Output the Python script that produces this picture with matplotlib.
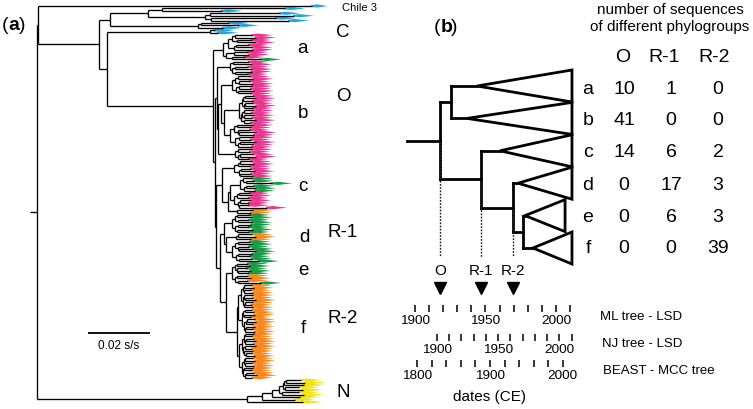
import matplotlib
matplotlib.use("Agg")
import matplotlib.pyplot as plt
from matplotlib import ticker
from matplotlib.collections import LineCollection, PolyCollection
from matplotlib.patches import Polygon

plt.rcParams["font.family"] = ["Liberation Sans", "DejaVu Sans"]

W, H = 753, 409

# phylogroup colours of the tips
COLORS = {"C": "#29a3dd", "Chile3": "#29a3dd", "O": "#e7378f",
          "R1": "#1a9a46", "R2": "#f6871f", "N": "#f2e41c"}

# ---- (a) ML tree, branch lengths in 0.001 s/s ----
C_UPPER = "(((C:39.7,C:19.4):4.5,((C:22.7,C:27.2):1.5,(C:20.9,C:25.1):2.0):18.4):12.3,((C:9.1,C:12.1):1.0,C:8.1):28.4)"
C_LOWER = "(C:1.5,C:2.5)"

CLADE_A = "((((O:5.5,O:6.5):1.0,(O:4.8,O:6.0):1.4):1.5,((O:4.0,O:5.2):0.8,O:6.2):2.0):1.5,((O:4.5,O:5.0):2.5,(O:4.2,R1:9.5):1.8):1.0)"

B1 = "((O:5.0,O:6.1):1.2,((O:4.4,O:5.6):0.9,(O:5.2,O:4.1):1.1):0.8)"
B2A = "(((O:4.0,O:5.1):0.7,(O:3.6,O:4.8):1.0):1.2,((O:4.4,O:3.9):0.8,(O:5.0,O:4.2):0.6):1.5)"
B2B = "((((O:2.8,O:3.4):0.5,O:3.0):0.6,((O:2.5,O:3.6):0.4,O:2.9):0.8):0.7,(((O:3.1,O:2.6):0.5,(O:3.3,O:2.7):0.6):0.4,(O:3.8,O:2.4):0.9):0.5)"
B2C = "(((O:5.2,O:4.4):0.9,(O:4.0,(O:5.5,O:4.7):0.6):1.0):1.4,((O:4.8,O:3.9):1.1,((O:5.1,O:4.3):0.7,O:4.6):0.8):1.6)"
B3 = "((O:4.6,O:3.8):1.0,((O:4.2,O:5.3):0.7,O:3.5):0.9)"
CLADE_B = f"({B1}:4.0,(({B2A}:3.5,({B2B}:5.0,{B2C}:2.0):1.0):0.9,{B3}:5.5):0.3)"

CL1 = "(((O:3.8,O:4.6):0.6,O:4.0):1.2,((O:3.2,O:4.4):0.8,(O:3.6,O:4.1):0.5):1.4)"
CL2A = "((R1:3.0,(R1:2.6,R1:8.5):0.8):1.0,((R1:2.8,R1:3.4):0.6,R1:3.6):1.2)"
CL2B = "(((O:3.4,O:4.0):0.7,O:3.8):0.9,((O:3.6,O:2.9):0.8,(O:3.2,O:9.0):0.5):1.1)"
CL2C = "(R2:5.0,R2:4.4)"
CLADE_C = f"({CL1}:4.0,(({CL2A}:3.4,{CL2B}:1.5):0.5,{CL2C}:3.0):2.0)"

D1 = "(((R1:4.2,R1:5.0):0.6,(R1:3.8,R1:4.6):0.9):1.0,((R1:4.4,R1:3.6):0.7,(R1:5.1,R1:4.0):0.5):1.2)"
D2 = "((R2:4.5,R2:5.6):0.8,R2:4.9)"
D3 = "(((R1:4.0,R1:4.8):0.7,(R1:3.5,(R1:4.4,R1:5.2):0.5):0.8):1.1,((R1:4.7,R1:3.9):0.6,(R1:4.2,R1:6.5):0.9):1.3)"
CLADE_D = f"({D1}:2.5,({D2}:3.2,{D3}:2.0):0.6)"

CLADE_E = "(((R1:3.6,R1:4.2):0.6,(R1:3.2,(R1:4.0,R1:3.4):0.4):0.7):0.9,((R2:3.8,R2:4.5):0.5,(R2:3.3,R1:7.5):0.8):1.0)"

F1 = "(((R2:2.6,R2:3.2):0.4,(R2:2.2,R2:3.0):0.5):0.6,((R2:2.9,(R2:2.4,R2:3.4):0.3):0.5,((R2:2.7,R2:2.1):0.4,R2:3.1):0.3):0.7)"
F2 = "(((R2:2.4,R2:2.9):0.5,(R2:3.3,R2:2.0):0.3):0.5,(((R2:2.6,R2:3.0):0.4,R2:2.3):0.6,((R2:2.8,R2:2.2):0.3,R2:3.2):0.4):0.6)"
F3 = "(((R2:2.9,R2:2.3):0.4,((R2:2.5,R2:3.1):0.3,R2:2.7):0.5):0.6,((R2:3.4,R2:2.4):0.5,(R2:2.8,(R2:2.1,R2:3.0):0.4):0.3):0.5)"
F4 = "(((R2:2.7,R2:3.3):0.4,(R2:2.2,R2:2.9):0.5):0.7,((R2:3.0,R2:2.5):0.3,((R2:2.6,R2:3.5):0.4,R2:2.4):0.6):0.5)"
CLADE_F = f"(({F1}:0.8,{F2}:1.2):0.4,({F3}:1.0,{F4}:0.9):0.6)"

CLADE_N = "(((((((N:5.0,N:6.2):0.6,N:6.4):0.5,(N:4.6,N:5.8):0.8):1.2,(N:5.5,N:7.0):1.0):2.3,N:9.0):3.0,N:10.5):5.0,N:18.0)"

CORE_OR = f"({CLADE_A}:3.2,({CLADE_B}:0.7,({CLADE_C}:1.9,({CLADE_D}:1.3,({CLADE_E}:1.9,{CLADE_F}:3.5):2.0):1.3):0.3):0.6)"
ML_TREE = f"((Chile3:88.5,({C_UPPER}:3.5,({C_LOWER}:33.2,{CORE_OR}:34.2):2.6):19.8):0.2,{CLADE_N}:67.7)"
SCALE_BAR = 20.0  # 0.02 s/s

# ---- (b) schematic dated tree (ML - LSD years) and counts ----
SCHEME = "((a:18.5,b:11.4):7.8,(c:13.5,(d:3.5,(e:1.5,f:7.1):7.0)R-2:22.8)R-1:29.1)O:23.4"
SCHEME_ROOT_YEAR = 1894.3
CLADE_END_YEAR = [2011.4, 2011.4, 2011.4, 2011.4, 2006.5, 2011.4]
GROUPS = ["O", "R-1", "R-2"]
COUNT_O = [10, 41, 14, 0, 0, 0]
COUNT_R1 = [1, 0, 6, 17, 6, 0]
COUNT_R2 = [0, 0, 2, 3, 3, 39]

ML_RANGE, ML_LABELS = (1900, 2010), [1900, 1950, 2000]
NJ_RANGE, NJ_LABELS = (1900, 2010), [1900, 1950, 2000]
BEAST_RANGE, BEAST_LABELS = (1800, 2000), [1800, 1900, 2000]


def read_newick(text):
    pos = 0

    def node():
        nonlocal pos
        kids = []
        if text[pos] == "(":
            pos += 1
            kids.append(node())
            while text[pos] == ",":
                pos += 1
                kids.append(node())
            pos += 1
        start = pos
        while pos < len(text) and text[pos] not in ":,()":
            pos += 1
        label = text[start:pos]
        length = 0.0
        if pos < len(text) and text[pos] == ":":
            pos += 1
            start = pos
            while pos < len(text) and text[pos] not in ",()":
                pos += 1
            length = float(text[start:pos])
        return {"label": label, "len": length, "kids": kids}

    return node()


def place(nd, x_parent, tips):
    nd["x"] = x_parent + nd["len"]
    if nd["kids"]:
        for k in nd["kids"]:
            place(k, nd["x"], tips)
        nd["y"] = (nd["kids"][0]["y"] + nd["kids"][-1]["y"]) / 2
    else:
        nd["y"] = len(tips)
        tips.append(nd)


def branches(nd, segs, yconv, inner):
    if nd["kids"]:
        inner.append(nd)
        segs.append([(nd["x"], yconv(nd["kids"][0]["y"])), (nd["x"], yconv(nd["kids"][-1]["y"]))])
        for k in nd["kids"]:
            segs.append([(nd["x"], yconv(k["y"])), (k["x"], yconv(k["y"]))])
            branches(k, segs, yconv, inner)


fig = plt.figure(figsize=(W / 100, H / 100), dpi=100)

ax = fig.add_axes([0, 0, 1, 1])
ax.set_xlim(0, W)
ax.set_ylim(H, 0)
ax.axis("off")

# ---------------- panel (a) ----------------
ROOT_PX, PX_PER_UNIT = 37, 3.1
TIP_Y0, TIP_Y1 = 6, 402
axt = fig.add_axes([0, 0, 1, 1])
axt.set_xlim(-ROOT_PX / PX_PER_UNIT, (W - ROOT_PX) / PX_PER_UNIT)
axt.set_ylim(H, 0)
axt.axis("off")
axt.patch.set_alpha(0)

tree = read_newick(ML_TREE)
tips = []
place(tree, 0.0, tips)
step = (TIP_Y1 - TIP_Y0) / (len(tips) - 1)
yconv = lambda i: TIP_Y0 + i * step
segs, inner = [], []
branches(tree, segs, yconv, inner)
segs.append([(-2.3, yconv(tree["y"])), (0, yconv(tree["y"]))])
axt.add_collection(LineCollection(segs, colors="black", linewidths=0.95,
                                  capstyle="butt", zorder=2))

leaves, leaf_cols = [], []
for t in tips:
    x, y = t["x"], yconv(t["y"])
    L = 5.2 if t["label"] == "Chile3" else 6.5
    h = 1.6
    leaves.append([(x - 0.3, y - h * 0.6), (x + 0.3 * L, y - h), (x + L, y),
                   (x + 0.3 * L, y + h), (x - 0.3, y + h * 0.6)])
    leaf_cols.append(COLORS[t["label"]])
axt.add_collection(PolyCollection(leaves, facecolors=leaf_cols, edgecolors="none", zorder=1))

bar_x = (88 - ROOT_PX) / PX_PER_UNIT
axt.plot([bar_x, bar_x + SCALE_BAR], [333, 333], color="black", lw=1.3, solid_capstyle="butt")
axt.text(bar_x + SCALE_BAR / 2, 346, "0.02 s/s", fontsize=8.5, ha="center", va="center")


def panel_tag(x, y, letter):
    ax.text(x, y, "(", fontsize=14, ha="left", va="center")
    ax.text(x + 6.3, y, letter, fontsize=14, fontweight="bold", ha="left", va="center")
    ax.text(x + 17.4, y, ")", fontsize=14, ha="left", va="center")


panel_tag(2, 25, "a")
ax.text(342, 10.7, "Chile 3", fontsize=8, ha="left", va="baseline")
for txt, x, y in [("C", 343, 37), ("O", 343, 101), ("R-1", 343, 237),
                  ("R-2", 343, 323), ("N", 343.5, 397),
                  ("a", 303, 53), ("b", 303, 118), ("c", 303, 191),
                  ("d", 304, 242), ("e", 303, 275), ("f", 303, 333)]:
    ax.text(x, y, txt, fontsize=13.5, ha="center", va="baseline")

# ---------------- panel (b) ----------------
ML_PX0, ML_PX1 = 415, 570
k = (ML_PX1 - ML_PX0) / (ML_RANGE[1] - ML_RANGE[0])
axb = fig.add_axes([0, 0, 1, 1])
axb.set_xlim(ML_RANGE[0] - ML_PX0 / k, ML_RANGE[0] + (W - ML_PX0) / k)
axb.set_ylim(H, 0)
axb.axis("off")
axb.patch.set_alpha(0)

ROW_TOP, ROW_STEP, HALF = 86, 32.4, 16
rowy = lambda i: ROW_TOP + i * ROW_STEP
scheme = read_newick(SCHEME)
clades = []
place(scheme, SCHEME_ROOT_YEAR, clades)
ssegs, snodes = [], []
branches(scheme, ssegs, rowy, snodes)
ssegs.append([(SCHEME_ROOT_YEAR, rowy(scheme["y"])), (scheme["x"], rowy(scheme["y"]))])
axb.add_collection(LineCollection(ssegs, colors="black", linewidths=2.0, capstyle="projecting"))
for i, c in enumerate(clades):
    y = rowy(c["y"])
    tri = Polygon([(c["x"], y), (CLADE_END_YEAR[i], y - HALF), (CLADE_END_YEAR[i], y + HALF)],
                  closed=True, fill=False, edgecolor="black", lw=2.0, joinstyle="miter")
    axb.add_patch(tri)

for nd in snodes:
    if nd["label"]:
        x = nd["x"]
        axb.plot([x, x], [rowy(nd["y"]) + 1.5, 257], color="#222222", lw=1.0, ls=(0, (1.3, 1.0)))
        axb.text(x, 275, nd["label"], fontsize=11, ha="center", va="baseline")
        axb.plot([x], [287.5], marker="v", ms=8.5, color="black", mec="black")

# counts table
ax.text(670, 14, "number of sequences", fontsize=11, ha="center", va="baseline")
ax.text(670, 31, "of different phylogroups", fontsize=11, ha="center", va="baseline")
COL_X = [624, 671, 718]
HEAD_X = [623, 664, 714]
for j, g in enumerate(GROUPS):
    ax.text(HEAD_X[j], 62, g, fontsize=14, ha="center", va="baseline")
ROW_BASE = [94, 125, 157, 190, 222, 253]
for i, c in enumerate(clades):
    ax.text(588, ROW_BASE[i], c["label"], fontsize=14, ha="center", va="baseline")
    for j, vals in enumerate([COUNT_O, COUNT_R1, COUNT_R2]):
        ax.text(COL_X[j], ROW_BASE[i], str(vals[i]), fontsize=14, ha="center", va="baseline")


# date scales
def date_axis(px0, px1, y_px, rng, labels, minor, name, name_x, name_y):
    kk = (px1 - px0) / (rng[1] - rng[0])
    pad = 3
    left = px0 - pad * kk
    axd = fig.add_axes([left / W, 1 - y_px / H, (px1 - px0 + 2 * pad * kk) / W, 0.002])
    axd.set_xlim(rng[0] - pad, rng[1] + pad)
    for s in axd.spines.values():
        s.set_visible(False)
    axd.yaxis.set_visible(False)
    axd.patch.set_alpha(0)
    axd.set_xticks(labels)
    axd.xaxis.set_minor_locator(ticker.MultipleLocator(minor))
    axd.tick_params(axis="x", which="both", direction="in", length=4.8, width=1.1,
                    pad=2.5, labelsize=9.7)
    ax.text(name_x, name_y, name, fontsize=9.5, ha="left", va="baseline")


date_axis(415, 570, 311.7, ML_RANGE, ML_LABELS, 10, "ML tree - LSD", 600, 320.5)
date_axis(436.7, 571.7, 341, NJ_RANGE, NJ_LABELS, 10, "NJ tree - LSD", 601.7, 347)
date_axis(417.3, 562.7, 366.7, BEAST_RANGE, BEAST_LABELS, 20, "BEAST - MCC tree", 603.3, 374)
ax.text(490, 400.7, "dates (CE)", fontsize=11, ha="center", va="baseline")

panel_tag(434, 27, "b")

fig.savefig("out.png", dpi=100)
